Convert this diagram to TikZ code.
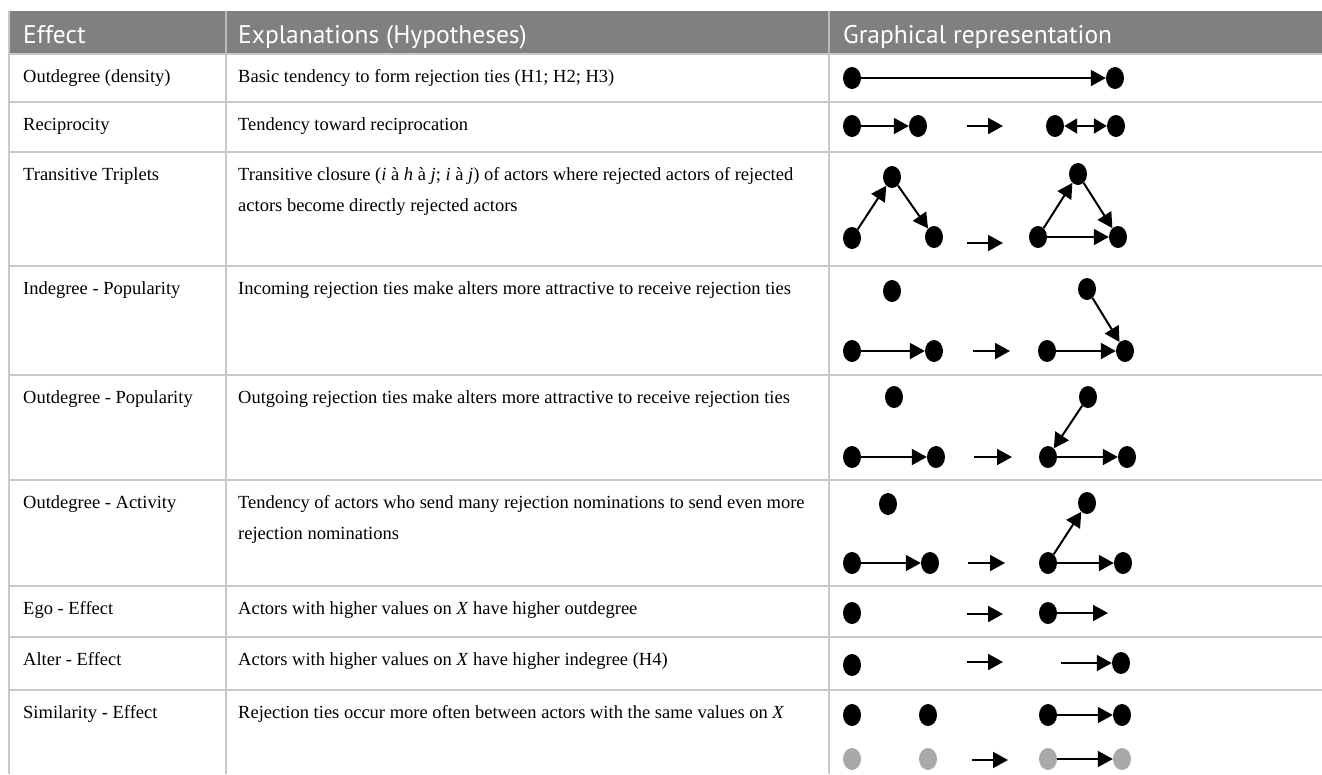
\documentclass[tikz,border=0pt]{standalone}
\usepackage{fontspec}
\setmainfont{Liberation Serif}
\newfontfamily\hdrfont{PT Sans}
\usetikzlibrary{shapes.geometric,arrows.meta}
\definecolor{hdrgray}{HTML}{808080}
\definecolor{gridgray}{HTML}{C8C8C8}
\definecolor{dotgray}{HTML}{A9A9A9}
\tikzset{
  dot/.style={ellipse,fill=black,minimum width=18pt,minimum height=22pt,inner sep=0pt},
  gdot/.style={dot,fill=dotgray},
  arr/.style={line width=2pt,-{Triangle[length=15pt,width=16pt]}},
  darr/.style={line width=2pt,{Triangle[length=13pt,width=15pt]}-{Triangle[length=13pt,width=15pt]}},
  hdr/.style={anchor=base west,inner sep=0pt,text=white,font=\hdrfont\fontsize{25.5}{30}\selectfont},
  cell/.style={anchor=base west,inner sep=0pt,font=\fontsize{18.5}{31}\selectfont},
  grid/.style={draw=gridgray,line width=1.5pt}
}
\begin{document}
\begin{tikzpicture}[x=1pt,y=-1pt]
\useasboundingbox (0,0) rectangle (1322,774);
% header
\fill[hdrgray] (9,11) rectangle (1322,54);
% grid lines
\foreach \yy in {54,102,152,266,375,480,586,637,690}
  \draw[grid] (9,\yy) -- (1322,\yy);
\draw[draw=gridgray,line width=1.5pt] (9,11) -- (9,774);
\draw[draw=gridgray!80!hdrgray,line width=1.5pt] (226,11) -- (226,54);
\draw[draw=gridgray!80!hdrgray,line width=1.5pt] (829,11) -- (829,54);
\draw[grid] (226,54) -- (226,774);
\draw[grid] (829,54) -- (829,774);
% header text
\node[hdr] (h1) at (23,43) {Effect};
\node[hdr] (h2) at (238,43) {Explanations (Hypotheses)};
\node[hdr] (h3) at (843,43) {Graphical representation};
% column 1
\node[cell] (e1) at (23,82) {Outdegree (density)};
\node[cell] (e2) at (23,130) {Reciprocity};
\node[cell] (e3) at (23,180) {Transitive Triplets};
\node[cell] (e4) at (23,294) {Indegree - Popularity};
\node[cell] (e5) at (23,403) {Outdegree - Popularity};
\node[cell] (e6) at (23,508) {Outdegree - Activity};
\node[cell] (e7) at (23,614) {Ego - Effect};
\node[cell] (e8) at (23,665) {Alter - Effect};
\node[cell] (e9) at (23,718) {Similarity - Effect};
% column 2
\node[cell] (x1) at (238,82) {Basic tendency to form rejection ties (H1; H2; H3)};
\node[cell] (x2) at (238,130) {Tendency toward reciprocation};
\node[cell] (x3a) at (238,180) {Transitive closure (\textit{i} à \textit{h} à \textit{j}; \textit{i} à \textit{j}) of actors where rejected actors of rejected};
\node[cell] (x3b) at (238,211) {actors become directly rejected actors};
\node[cell] (x4) at (238,294) {Incoming rejection ties make alters more attractive to receive rejection ties};
\node[cell] (x5) at (238,403) {Outgoing rejection ties make alters more attractive to receive rejection ties};
\node[cell] (x6a) at (238,508) {Tendency of actors who send many rejection nominations to send even more};
\node[cell] (x6b) at (238,539) {rejection nominations};
\node[cell] (x7) at (238,614) {Actors with higher values on \textit{X} have higher outdegree};
\node[cell] (x8) at (238,665) {Actors with higher values on \textit{X} have higher indegree (H4)};
\node[cell] (x9) at (238,718) {Rejection ties occur more often between actors with the same values on \textit{X}};
% row 1
\node[dot] (a1) at (852,78) {};
\node[dot] (a2) at (1115,78) {};
\draw[arr] (a1) -- (a2);
% row 2
\node[dot] (b1) at (852,126) {};
\node[dot] (b2) at (918,126) {};
\draw[arr] (b1) -- (b2);
\coordinate (bs) at (967,126); \coordinate (be) at (1003,126);
\draw[arr] (bs) -- (be);
\node[dot] (b3) at (1055,126) {};
\node[dot] (b4) at (1116,126) {};
\draw[darr] (b3) -- (b4);
% row 3
\node[dot] (c1) at (852,238) {};
\node[dot] (c2) at (892,177) {};
\node[dot] (c3) at (934,237) {};
\draw[arr] (c1) -- (c2);
\draw[arr] (c2) -- (c3);
\coordinate (cs) at (967,243); \coordinate (ce) at (1003,243);
\draw[arr] (cs) -- (ce);
\node[dot] (c4) at (1038,237) {};
\node[dot] (c5) at (1078,174) {};
\node[dot] (c6) at (1118,237) {};
\draw[arr] (c4) -- (c5);
\draw[arr] (c5) -- (c6);
\draw[arr] (c4) -- (c6);
% row 4
\node[dot] (d1) at (892,291) {};
\node[dot] (d2) at (852,351) {};
\node[dot] (d3) at (934,351) {};
\draw[arr] (d2) -- (d3);
\coordinate (ds) at (973,351); \coordinate (de) at (1010,351);
\draw[arr] (ds) -- (de);
\node[dot] (d4) at (1087,289) {};
\node[dot] (d5) at (1047,351) {};
\node[dot] (d6) at (1125,351) {};
\draw[arr] (d5) -- (d6);
\draw[arr] (d4) -- (d6);
% row 5
\node[dot] (f1) at (894,397) {};
\node[dot] (f2) at (852,457) {};
\node[dot] (f3) at (936,457) {};
\draw[arr] (f2) -- (f3);
\coordinate (fs) at (974,457); \coordinate (fe) at (1012,457);
\draw[arr] (fs) -- (fe);
\node[dot] (f4) at (1088,397) {};
\node[dot] (f5) at (1048,457) {};
\node[dot] (f6) at (1127,457) {};
\draw[arr] (f5) -- (f6);
\draw[arr] (f4) -- (f5);
% row 6
\node[dot] (g1) at (888,504) {};
\node[dot] (g2) at (852,563) {};
\node[dot] (g3) at (930,563) {};
\draw[arr] (g2) -- (g3);
\coordinate (gs) at (968,563); \coordinate (ge) at (1005,563);
\draw[arr] (gs) -- (ge);
\node[dot] (g4) at (1087,503) {};
\node[dot] (g5) at (1048,563) {};
\node[dot] (g6) at (1123,563) {};
\draw[arr] (g5) -- (g6);
\draw[arr] (g5) -- (g4);
% row 7
\node[dot] (k1) at (852,613) {};
\coordinate (ks) at (967,614); \coordinate (ke) at (1003,614);
\draw[arr] (ks) -- (ke);
\node[dot] (k2) at (1048,613) {};
\coordinate (kt) at (1108,613);
\draw[arr] (k2) -- (kt);
% row 8
\node[dot] (m1) at (852,665) {};
\coordinate (ms) at (967,662); \coordinate (me) at (1003,662);
\draw[arr] (ms) -- (me);
\coordinate (mt) at (1061,663);
\node[dot] (m2) at (1121,663) {};
\draw[arr] (mt) -- (m2);
% row 9
\node[dot] (n1) at (852,715) {};
\node[dot] (n2) at (928,715) {};
\node[gdot] (n3) at (852,759) {};
\node[gdot] (n4) at (928,759) {};
\coordinate (ns) at (972,760); \coordinate (ne) at (1008,760);
\draw[arr] (ns) -- (ne);
\node[dot] (n5) at (1048,715) {};
\node[dot] (n6) at (1122,715) {};
\draw[arr] (n5) -- (n6);
\node[gdot] (n7) at (1048,759) {};
\node[gdot] (n8) at (1122,759) {};
\draw[arr] (n7) -- (n8);
\end{tikzpicture}
\end{document}
